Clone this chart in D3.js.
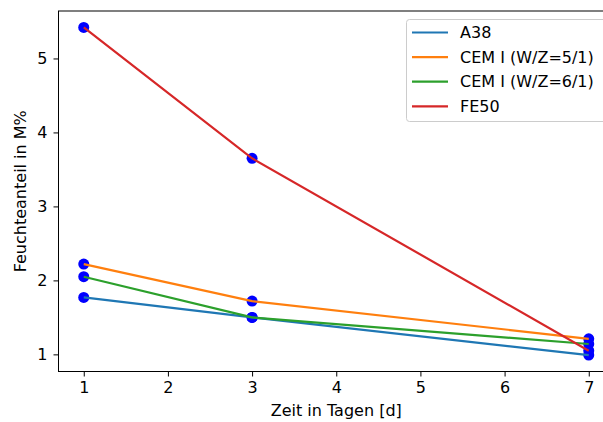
<!DOCTYPE html>
<html>
<head>
<meta charset="utf-8">
<script src="https://cdn.jsdelivr.net/npm/d3@7"></script>
<style>
  html, body { margin: 0; padding: 0; background: #fff; }
  text { font-family: "DejaVu Sans", sans-serif; fill: #000; }
</style>
</head>
<body>
<svg id="chart" width="603" height="422"></svg>
<script>
// Measurement days
const days = [1, 3, 7];

// Moisture content (M%) per mix
const seriesNames = ["A38", "CEM I (W/Z=5/1)", "CEM I (W/Z=6/1)", "FE50"];
const a38 = [1.77, 1.50, 0.99];
const cem51 = [2.22, 1.72, 1.21];
const cem61 = [2.05, 1.50, 1.14];
const fe50 = [5.42, 3.65, 1.05];

const xTicks = [1, 2, 3, 4, 5, 6, 7];
const yTicks = [1, 2, 3, 4, 5];

const colors = ["#1f77b4", "#ff7f0e", "#2ca02c", "#d62728"];
const seriesValues = [a38, cem51, cem61, fe50];

const svg = d3.select("#chart");
const plot = { left: 58.5, right: 614, top: 11, bottom: 371.5 };

// Axis limits with 5% padding around the data
function padded(lo, hi) {
  const p = (hi - lo) * 0.05;
  return [lo - p, hi + p];
}
const allY = seriesValues.flat();
const x = d3.scaleLinear().domain(padded(d3.min(days), d3.max(days))).range([plot.left, plot.right]);
const y = d3.scaleLinear().domain(padded(d3.min(allY), d3.max(allY))).range([plot.bottom, plot.top]);

const fontSize = 16;

// Axes
const xAxis = d3.axisBottom(x).tickValues(xTicks).tickFormat(d3.format("d")).tickSize(5).tickPadding(5);
const yAxis = d3.axisLeft(y).tickValues(yTicks).tickFormat(d3.format("d")).tickSize(5).tickPadding(6);

const gx = svg.append("g").attr("transform", `translate(0,${plot.bottom})`).call(xAxis);
const gy = svg.append("g").attr("transform", `translate(${plot.left},0)`).call(yAxis);
[gx, gy].forEach(g => {
  g.select(".domain").remove();
  g.selectAll(".tick line").attr("stroke", "#000").attr("stroke-width", 1);
  g.selectAll(".tick text").attr("font-size", fontSize).attr("font-family", "DejaVu Sans");
});

// Spines (left, bottom, top; right lies past the canvas edge)
const spines = svg.append("g").attr("stroke", "#000").attr("stroke-width", 1).attr("fill", "none");
spines.append("rect")
  .attr("x", plot.left).attr("y", plot.top)
  .attr("width", plot.right - plot.left).attr("height", plot.bottom - plot.top);

// Scatter markers
const pts = [];
seriesValues.forEach(vals => vals.forEach((v, i) => pts.push({ x: days[i], y: v })));
svg.append("g").selectAll("circle").data(pts).join("circle")
  .attr("cx", d => x(d.x)).attr("cy", d => y(d.y)).attr("r", 5.5)
  .attr("fill", "#0000ff");

// Lines
const line = d3.line().x((d, i) => x(days[i])).y(d => y(d));
svg.append("g").selectAll("path").data(seriesValues).join("path")
  .attr("d", d => line(d))
  .attr("fill", "none")
  .attr("stroke", (d, i) => colors[i])
  .attr("stroke-width", 2.2);

// Axis labels
svg.append("text")
  .attr("x", (plot.left + plot.right) / 2).attr("y", 416)
  .attr("text-anchor", "middle").attr("font-size", fontSize)
  .text("Zeit in Tagen [d]");
svg.append("text")
  .attr("transform", `translate(26,${(plot.top + plot.bottom) / 2}) rotate(-90)`)
  .attr("text-anchor", "middle").attr("font-size", fontSize)
  .text("Feuchteanteil in M%");

// Legend
const legend = svg.append("g");
legend.append("rect")
  .attr("x", 406.5).attr("y", 19.5).attr("width", 200).attr("height", 102)
  .attr("rx", 3).attr("fill", "#fff").attr("fill-opacity", 0.8)
  .attr("stroke", "#cccccc").attr("stroke-width", 1);
seriesNames.forEach((name, i) => {
  const yy = 32.5 + i * 24.6;
  legend.append("line")
    .attr("x1", 412).attr("x2", 448).attr("y1", yy).attr("y2", yy)
    .attr("stroke", colors[i]).attr("stroke-width", 2.2);
  legend.append("text")
    .attr("x", 460).attr("y", yy).attr("dy", "0.35em")
    .attr("font-size", fontSize).text(name);
});
</script>
</body>
</html>
